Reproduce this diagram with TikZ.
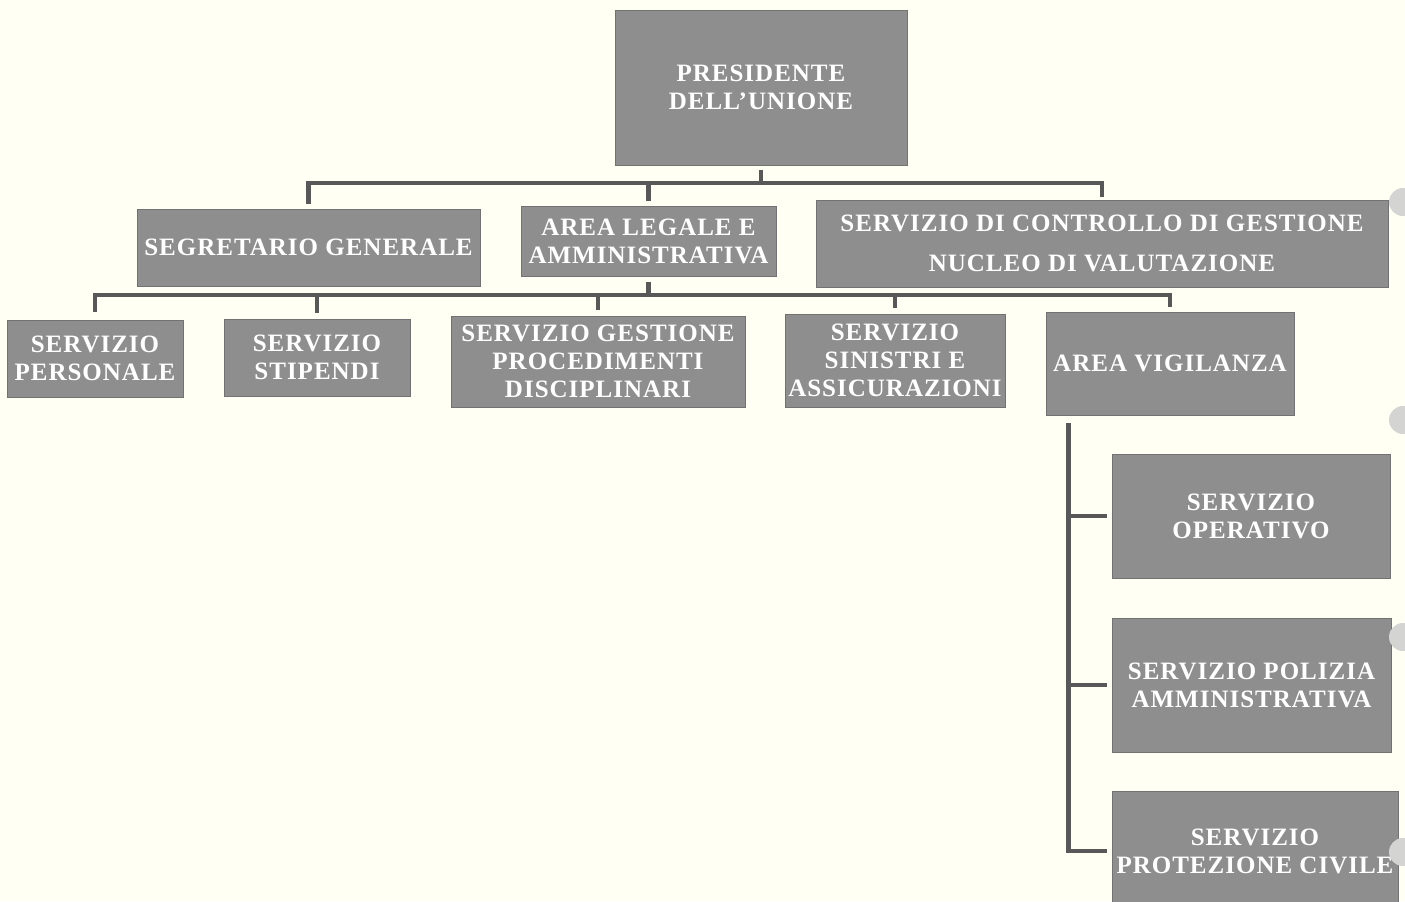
\documentclass[tikz,border=0pt]{standalone}
\usepackage{fontspec}
\setmainfont{Liberation Serif}[LetterSpace=4]
\usepackage{xcolor}
\usetikzlibrary{calc}

\definecolor{paper}{RGB}{255,255,244}
\definecolor{boxgray}{RGB}{142,142,142}
\definecolor{linegray}{RGB}{88,88,88}
\definecolor{punch}{RGB}{212,212,210}

\begin{document}
\begin{tikzpicture}[x=0.5pt,y=-0.5pt,
    office/.style={
      rectangle,
      draw=boxgray!80!black,
      fill=boxgray,
      text=white,
      font=\fontsize{12.5}{14}\selectfont\bfseries,
      align=center,
      inner sep=1pt
    },
    conn/.style={draw=linegray, line width=2.2pt}]
  \useasboundingbox (0,0) rectangle (1405,901);
  \fill[paper] (0,0) rectangle (1405,901);

  % top level
  \node[office, minimum width=146pt, minimum height=77.5pt] (pres) at (761,87.5) {PRESIDENTE\\DELL’UNIONE};

  % second level
  \node[office, minimum width=171.5pt, minimum height=38.5pt] (segr) at (308.5,247.5) {SEGRETARIO GENERALE};
  \node[office, minimum width=127.5pt, minimum height=35pt] (legale) at (648.5,241) {AREA LEGALE E\\AMMINISTRATIVA};
  \node[office, minimum width=286pt, minimum height=43.5pt] (ctrl) at (1102,243.5) {SERVIZIO DI CONTROLLO DI GESTIONE\\[6pt]NUCLEO DI VALUTAZIONE};

  % third level
  \node[office, minimum width=88pt, minimum height=38.5pt] (pers) at (95,358.5) {SERVIZIO\\PERSONALE};
  \node[office, minimum width=93pt, minimum height=38.5pt] (stip) at (317,357.5) {SERVIZIO\\STIPENDI};
  \node[office, minimum width=147pt, minimum height=45.5pt] (disc) at (598,361.5) {SERVIZIO GESTIONE\\PROCEDIMENTI\\DISCIPLINARI};
  \node[office, minimum width=110pt, minimum height=46.5pt] (sin) at (895,360.5) {SERVIZIO\\SINISTRI E\\ASSICURAZIONI};
  \node[office, minimum width=124pt, minimum height=51.5pt] (vig) at (1170,363.5) {AREA VIGILANZA};

  % area vigilanza
  \node[office, minimum width=139pt, minimum height=62pt] (oper) at (1251,516) {SERVIZIO\\OPERATIVO};
  \node[office, minimum width=139.5pt, minimum height=67pt] (pol) at (1251.5,685) {SERVIZIO POLIZIA\\AMMINISTRATIVA};
  \node[office, minimum width=143pt, minimum height=60pt] (prot) at (1255,851) {SERVIZIO\\PROTEZIONE CIVILE};

  \coordinate (busA) at (0,183);
  \coordinate (busB) at (0,295);
  \coordinate (spine) at ($(vig.south west)+(23,8)$);

  \draw[conn, shorten <=2.5pt] (pres.south) -- (pres.south |- busA);
  \draw[conn, shorten <=2.5pt, shorten >=1.5pt] (segr.north) -- (segr.north |- busA) -- (ctrl.north |- busA) -- (ctrl.north);
  \draw[conn, shorten >=2.5pt] (legale.north |- busA) -- (legale.north);

  \draw[conn, shorten <=3pt] (legale.south) -- (legale.south |- busB);
  \draw[conn, shorten <=4pt, shorten >=2.5pt] (pers.north) -- (pers.north |- busB) -- (vig.north |- busB) -- (vig.north);
  \foreach \n in {stip, disc, sin}
    \draw[conn, shorten >=3pt] (\n.north |- busB) -- (\n.north);

  \draw[conn] (spine) |- ([xshift=-2.5pt]prot.west);
  \foreach \n in {oper, pol}
    \draw[conn] (spine |- \n.west) -- ([xshift=-2.5pt]\n.west);

  % punched holes at the right edge
  \foreach \y in {202, 420, 637, 852}
    \fill[punch] (1403,\y) circle [radius=14];
\end{tikzpicture}
\end{document}
